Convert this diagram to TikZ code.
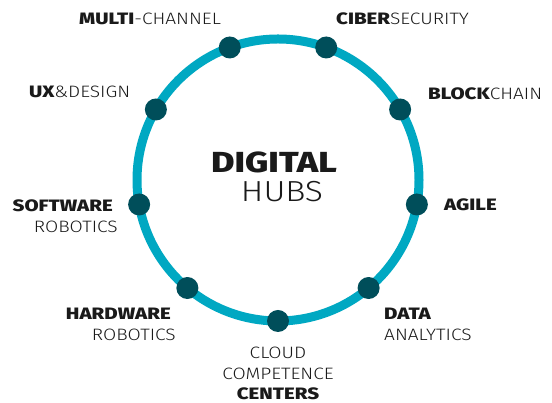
\documentclass[tikz,border=0pt]{standalone}
\usepackage{fontspec}
\setmainfont{Fira Sans Light}[FakeStretch=1.16]
\newfontfamily\heavy{Fira Sans ExtraBold}[FakeStretch=1.24]
\definecolor{ringc}{HTML}{00A8C2}
\definecolor{dotc}{HTML}{004E5A}
\definecolor{ink}{HTML}{1A1A1A}
\begin{document}
\begin{tikzpicture}[x=1pt,y=1pt,
  lbl/.style={font=\fontsize{16.5}{20}\selectfont, text=ink, inner sep=0pt},
  big/.style={font=\fontsize{29}{30}\selectfont, text=ink, inner sep=0pt},
  hubdot/.style={circle, fill=dotc, minimum size=22pt, inner sep=0pt}]
\useasboundingbox (0,0) rectangle (552,403);
\coordinate (c) at (278,223);
\draw[ringc, line width=9pt] (c) circle (141);
\foreach \a/\n in {-90/d1,-50/d2,-10/d3,30/d4,70/d5,110/d6,150/d7,190/d8,230/d9}
  \node[hubdot] (\n) at ([shift={(\a:141)}]c) {};
\node[big, anchor=base] (t1) at (274,230) {\heavy DIGITAL};
\node[big, anchor=base] (t2) at (282,201) {HUBS};
\node[lbl, anchor=base west] (l1) at (79,378) {{\heavy MULTI}-CHANNEL};
\node[lbl, anchor=base west] (l2) at (336,378) {{\heavy CIBER}SECURITY};
\node[lbl, anchor=base west] (l3) at (428,303) {{\heavy BLOCK}CHAIN};
\node[lbl, anchor=base west] (l4) at (29,305) {{\heavy UX}\&DESIGN};
\node[lbl, anchor=base east] (l5a) at (113,191) {\heavy SOFTWARE};
\node[lbl, anchor=base east] (l5b) at (118,170) {ROBOTICS};
\node[lbl, anchor=base west] (l6) at (444,192) {\heavy AGILE};
\node[lbl, anchor=base east] (l7a) at (171,83) {\heavy HARDWARE};
\node[lbl, anchor=base east] (l7b) at (176,62) {ROBOTICS};
\node[lbl, anchor=base west] (l8a) at (384,83) {\heavy DATA};
\node[lbl, anchor=base west] (l8b) at (384,62) {ANALYTICS};
\node[lbl, anchor=base] (l9a) at (278,44) {CLOUD};
\node[lbl, anchor=base] (l9b) at (278,23) {COMPETENCE};
\node[lbl, anchor=base] (l9c) at (278,3) {\heavy CENTERS};
\end{tikzpicture}
\end{document}
